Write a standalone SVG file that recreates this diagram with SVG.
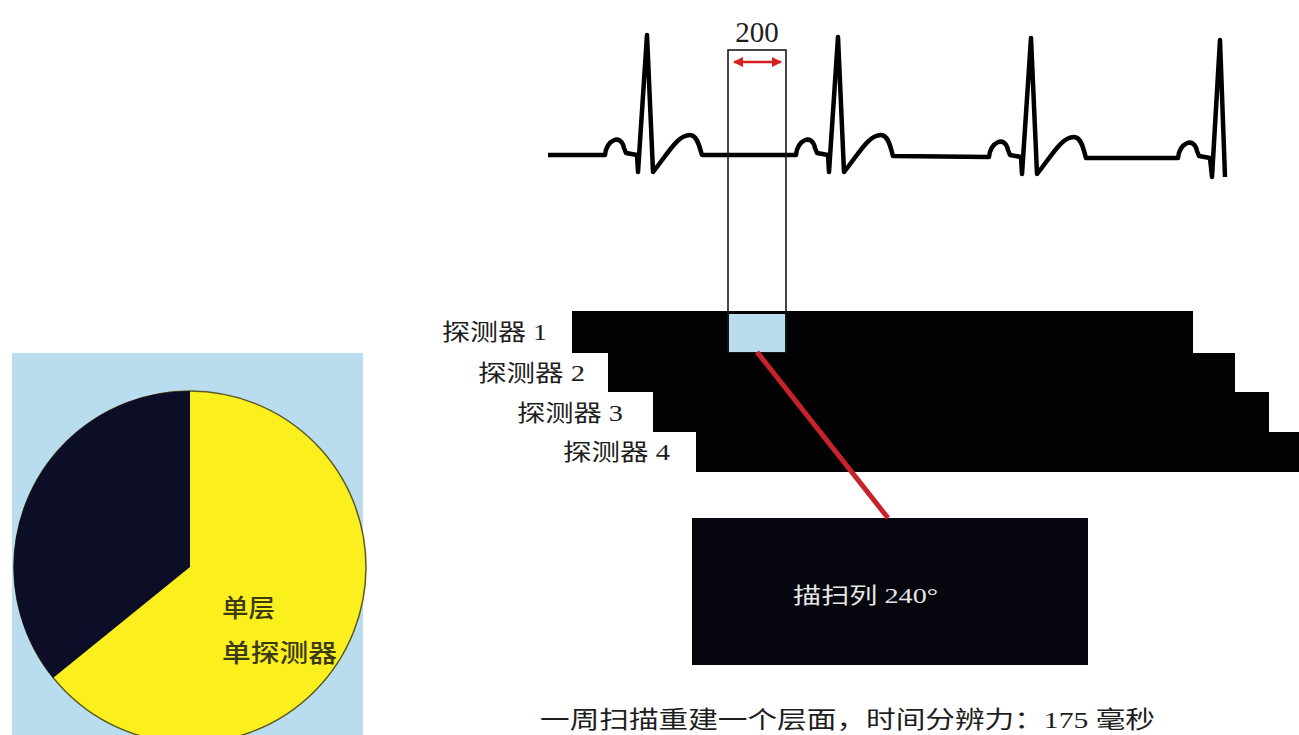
<svg xmlns="http://www.w3.org/2000/svg" width="1299" height="735" viewBox="0 0 1299 735">
<defs>
<style>
.lbl{font-family:"Liberation Serif","Noto Sans CJK SC",serif;fill:#1e1e1e;}
.cjk{font-family:"Noto Sans CJK SC","Liberation Sans",sans-serif;}
.ecg{fill:none;stroke:#000;stroke-width:4.5;stroke-linejoin:round;stroke-linecap:butt;}
</style>
<marker id="ah" viewBox="0 0 10 10" refX="9" refY="5" markerWidth="4" markerHeight="4" orient="auto-start-reverse">
<path d="M0,0 L10,5 L0,10 Z" fill="#d42020"/>
</marker>
</defs>
<rect width="1299" height="735" fill="#fff"/>

<g id="pie-panel">
<rect x="12" y="353" width="351" height="382" fill="#b9dcef"/>
<circle cx="190" cy="567" r="176" fill="#fbef1e" stroke="#5a5a20" stroke-width="1.5"/>
<path d="M190,567 L190,391 A176,176 0 0 0 53,678 Z" fill="#0c0d26"/>
<text class="cjk" x="222" y="617" font-size="25" font-weight="500" fill="#3b3a12" textLength="53" lengthAdjust="spacingAndGlyphs">单层</text>
<text class="cjk" x="222" y="662" font-size="25" font-weight="500" fill="#3b3a12" textLength="115" lengthAdjust="spacingAndGlyphs">单探测器</text>
</g>

<g id="ecg">
<path class="ecg" d="M548,155 L605,155 C606,140 621,133 624,148 L626,153 L637,155 L638,172 L647,35 L653,172 C667,155 677,135 690,135 C698,135 700,150 702,155 L796,155 C797,140 812,133 815,148 L817,153 L828,155 L829,172 L838,37 L844,172 C858,155 868,135 881,135 C889,135 891,150 893,156 L989,157 C990,142 1005,135 1008,150 L1010,155 L1021,157 L1022,174 L1031,38 L1037,174 C1051,157 1061,137 1074,137 C1082,137 1084,152 1086,158 L1178,158 C1179,143 1194,136 1197,151 L1199,156 L1210,158 L1212,177 L1220,40 L1225,177"/>
</g>

<g id="detectors">
<polygon points="572,311 1193,311 1193,353 1235,353 1235,392 1269,392 1269,432 1299,432 1299,472 696,472 696,432 653,432 653,392 608,392 608,353 572,353" fill="#020204"/>
<text class="lbl" x="442" y="340" font-size="23" textLength="105" lengthAdjust="spacingAndGlyphs">探测器 1</text>
<text class="lbl" x="478" y="381" font-size="23" textLength="107" lengthAdjust="spacingAndGlyphs">探测器 2</text>
<text class="lbl" x="517" y="421" font-size="23" textLength="106" lengthAdjust="spacingAndGlyphs">探测器 3</text>
<text class="lbl" x="563" y="460" font-size="23" textLength="107" lengthAdjust="spacingAndGlyphs">探测器 4</text>
</g>

<g id="window">
<rect x="728" y="50" width="58" height="302" fill="none" stroke="#1a1a1a" stroke-width="1.6"/>
<rect x="729" y="314" width="56" height="38" fill="#b9dcee"/>
<text class="lbl" x="757" y="42" font-size="29" text-anchor="middle">200</text>
<line x1="734" y1="62" x2="781" y2="62" stroke="#d42020" stroke-width="2.5" marker-start="url(#ah)" marker-end="url(#ah)"/>
</g>

<g id="scan-box">
<rect x="692" y="518" width="396" height="147" fill="#06060f"/>
<text class="lbl" x="793" y="603" font-size="22" style="fill:#e6e6e6" textLength="145" lengthAdjust="spacingAndGlyphs">描扫列 240°</text>
</g>

<g id="connectors">
<line x1="757" y1="352" x2="888" y2="518" stroke="#c8232b" stroke-width="5"/>
</g>

<g id="caption">
<text class="lbl" x="540" y="728" font-size="24" textLength="615" lengthAdjust="spacingAndGlyphs">一周扫描重建一个层面，时间分辨力：175 毫秒</text>
</g>
</svg>
